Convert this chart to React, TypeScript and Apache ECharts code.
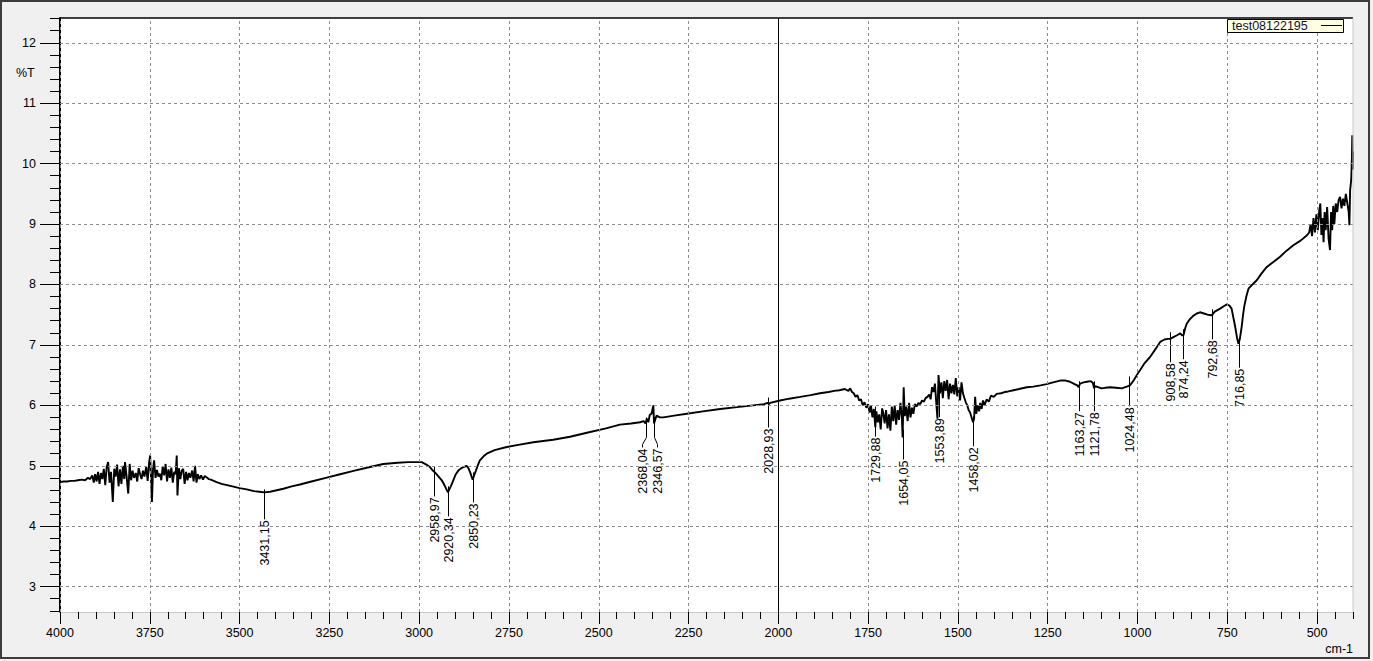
import React, { useEffect, useRef } from "react";
import * as echarts from "echarts";

// ---- data ----
const spectrum: [number, number][] = [
  [4000, 4.73], [3990, 4.74], [3980, 4.74], [3970, 4.75], [3960, 4.75], [3950, 4.76], [3940, 4.77], [3930, 4.76],
  [3922, 4.8], [3916, 4.78], [3910, 4.84], [3906, 4.72], [3902, 4.86], [3898, 4.74], [3894, 4.9], [3890, 4.7],
  [3886, 4.88], [3882, 4.78], [3878, 4.95], [3874, 4.68], [3870, 4.98], [3866, 5.06], [3862, 4.72], [3858, 4.9],
  [3853, 4.4], [3849, 4.95], [3845, 4.82], [3841, 5.02], [3837, 4.66], [3833, 4.94], [3829, 4.7], [3825, 5.0],
  [3821, 4.78], [3819, 5.06], [3815, 4.85], [3810, 4.54], [3806, 5.03], [3802, 4.76], [3798, 4.92], [3794, 4.8],
  [3789, 4.88], [3785, 4.74], [3781, 4.96], [3777, 4.86], [3773, 4.78], [3769, 4.92], [3765, 4.82], [3760, 4.98],
  [3756, 4.75], [3752, 5.05], [3749, 5.17], [3746, 4.7], [3744, 4.4], [3741, 4.95], [3738, 5.09], [3734, 4.8],
  [3730, 4.93], [3726, 4.82], [3722, 4.87], [3718, 4.76], [3714, 4.99], [3710, 4.84], [3706, 5.03], [3702, 4.74],
  [3698, 4.94], [3694, 4.8], [3690, 4.97], [3686, 4.72], [3682, 4.9], [3678, 4.86], [3675, 5.17], [3673, 4.51],
  [3669, 4.96], [3665, 4.78], [3661, 4.92], [3657, 4.95], [3653, 4.7], [3649, 4.9], [3645, 4.76], [3641, 4.88],
  [3637, 4.8], [3632, 4.92], [3628, 4.74], [3624, 5.0], [3620, 4.72], [3616, 4.86], [3612, 4.78], [3607, 4.84],
  [3602, 4.77], [3597, 4.83], [3592, 4.81], [3586, 4.78], [3580, 4.77], [3572, 4.75], [3564, 4.73], [3550, 4.7],
  [3535, 4.68], [3520, 4.66], [3500, 4.63], [3480, 4.61], [3460, 4.58], [3445, 4.57], [3431, 4.56], [3415, 4.57],
  [3400, 4.59], [3378, 4.62], [3355, 4.66], [3332, 4.69], [3300, 4.74], [3260, 4.8], [3220, 4.86], [3180, 4.92],
  [3137, 4.98], [3100, 5.03], [3060, 5.05], [3030, 5.06], [3010, 5.06], [2993, 5.06], [2980, 5.02], [2970, 4.98],
  [2962, 4.92], [2956, 4.89], [2947, 4.83], [2937, 4.76], [2928, 4.66], [2920, 4.56], [2912, 4.66], [2905, 4.76],
  [2898, 4.86], [2891, 4.92], [2880, 4.97], [2868, 5.0], [2862, 4.95], [2858, 4.89], [2854, 4.82], [2851, 4.77],
  [2847, 4.84], [2842, 4.92], [2836, 5.02], [2831, 5.09], [2820, 5.16], [2812, 5.2], [2790, 5.26], [2756, 5.31],
  [2720, 5.35], [2682, 5.39], [2627, 5.43], [2580, 5.48], [2530, 5.55], [2480, 5.62], [2441, 5.68], [2410, 5.7],
  [2385, 5.72], [2375, 5.74], [2370, 5.7], [2366, 5.78], [2362, 5.72], [2358, 5.84], [2353, 5.86], [2348, 6.0],
  [2346, 5.7], [2342, 5.78], [2339, 5.83], [2330, 5.8], [2320, 5.8], [2290, 5.83], [2255, 5.86], [2210, 5.9],
  [2162, 5.94], [2115, 5.97], [2070, 6.0], [2040, 6.02], [2030, 6.04], [2026, 6.02], [2023, 6.04], [1995, 6.08],
  [1970, 6.11], [1939, 6.14], [1910, 6.17], [1884, 6.2], [1860, 6.22], [1845, 6.24], [1830, 6.25], [1815, 6.27],
  [1805, 6.24], [1800, 6.28], [1795, 6.22], [1790, 6.2], [1785, 6.14], [1780, 6.17], [1775, 6.08], [1770, 6.1],
  [1765, 6.0], [1760, 6.05], [1755, 5.96], [1750, 6.02], [1746, 5.88], [1742, 5.99], [1738, 5.8], [1734, 5.94],
  [1730, 5.64], [1727, 5.9], [1723, 5.72], [1719, 5.85], [1715, 5.6], [1711, 5.95], [1708, 5.88], [1704, 5.7],
  [1700, 5.92], [1696, 5.62], [1692, 5.85], [1688, 5.58], [1684, 5.98], [1680, 5.74], [1676, 6.0], [1672, 5.68],
  [1668, 5.92], [1664, 5.76], [1660, 6.04], [1656, 5.8], [1654, 5.47], [1651, 6.3], [1648, 5.82], [1644, 5.98],
  [1640, 5.74], [1636, 6.04], [1632, 5.8], [1628, 5.96], [1624, 5.86], [1620, 6.02], [1615, 5.98], [1610, 6.04],
  [1605, 6.02], [1600, 6.08], [1595, 6.06], [1590, 6.12], [1585, 6.14], [1580, 6.18], [1576, 6.1], [1572, 6.3],
  [1568, 6.22], [1564, 6.36], [1560, 6.02], [1557, 5.78], [1554, 6.5], [1550, 6.2], [1546, 6.38], [1542, 6.12],
  [1538, 6.4], [1534, 6.24], [1530, 6.42], [1526, 6.1], [1522, 6.36], [1518, 6.2], [1514, 6.34], [1510, 6.18],
  [1506, 6.45], [1502, 6.15], [1498, 6.3], [1494, 6.08], [1490, 6.38], [1486, 6.2], [1482, 6.12], [1478, 6.05],
  [1474, 6.0], [1470, 5.92], [1466, 5.88], [1462, 5.8], [1458, 5.72], [1455, 5.78], [1452, 6.14], [1449, 5.86],
  [1445, 6.0], [1441, 5.9], [1438, 6.04], [1434, 5.94], [1430, 6.08], [1426, 6.0], [1420, 6.1], [1414, 6.06],
  [1408, 6.16], [1400, 6.14], [1392, 6.19], [1380, 6.2], [1370, 6.22], [1360, 6.23], [1345, 6.25], [1330, 6.27],
  [1308, 6.3], [1290, 6.31], [1270, 6.33], [1253, 6.35], [1235, 6.38], [1215, 6.41], [1200, 6.41], [1188, 6.39],
  [1178, 6.36], [1168, 6.33], [1164, 6.3], [1160, 6.36], [1150, 6.38], [1141, 6.39], [1130, 6.4], [1124, 6.37],
  [1121, 6.28], [1118, 6.32], [1110, 6.3], [1100, 6.28], [1090, 6.29], [1076, 6.3], [1060, 6.29], [1044, 6.28],
  [1030, 6.31], [1021, 6.33], [1010, 6.42], [1000, 6.52], [993, 6.58], [980, 6.7], [965, 6.8], [950, 6.93],
  [937, 7.05], [925, 7.09], [915, 7.1], [909, 7.1], [900, 7.13], [890, 7.16], [881, 7.19], [876, 7.16],
  [872, 7.16], [867, 7.28], [863, 7.35], [855, 7.42], [845, 7.48], [835, 7.52], [826, 7.54], [815, 7.52],
  [805, 7.5], [793, 7.49], [785, 7.55], [770, 7.6], [760, 7.64], [751, 7.67], [744, 7.65], [738, 7.6],
  [733, 7.45], [728, 7.3], [723, 7.12], [719, 7.02], [715, 7.1], [710, 7.3], [706, 7.5], [703, 7.63],
  [697, 7.8], [691, 7.93], [680, 8.0], [668, 8.07], [655, 8.18], [640, 8.29], [620, 8.38], [603, 8.46],
  [585, 8.56], [566, 8.65], [545, 8.73], [529, 8.81], [522, 8.86], [518, 9.0], [514, 8.8], [510, 9.1],
  [506, 8.86], [502, 9.16], [498, 8.9], [494, 9.22], [491, 9.34], [488, 8.82], [485, 9.1], [482, 8.7],
  [479, 9.2], [476, 8.9], [472, 9.28], [468, 8.76], [464, 8.57], [461, 9.2], [458, 8.9], [455, 9.3],
  [452, 9.0], [448, 9.34], [444, 9.2], [440, 9.4], [436, 9.45], [432, 9.26], [428, 9.42], [424, 9.3],
  [420, 9.5], [416, 9.35], [412, 9.2], [410, 8.98], [408, 9.56], [405, 9.73], [403, 10.1], [402, 10.47],
  [401, 9.9], [400, 10.2],
];

const peakWavenumbers = [3431.15, 2958.97, 2920.34, 2850.23, 2368.04, 2346.57, 2028.93, 1729.88, 1654.05,
  1553.89, 1458.02, 1163.27, 1121.78, 1024.48, 908.58, 874.24, 792.68, 716.85];
const peakLabels = ["3431,15", "2958,97", "2920,34", "2850,23", "2368,04", "2346,57", "2028,93", "1729,88", "1654,05",
  "1553,89", "1458,02", "1163,27", "1121,78", "1024,48", "908,58", "874,24", "792,68", "716,85"];
const peakT = [4.51, 4.89, 4.56, 4.79, 5.7, 5.7, 6.03, 5.88, 5.5, 6.2, 5.72, 6.3, 6.3, 6.38, 7.11, 7.16, 7.49, 7.02];

const xMajorTicks = [4000, 3750, 3500, 3250, 3000, 2750, 2500, 2250, 2000, 1750, 1500, 1250, 1000, 750, 500];
const yMajorTicks = [3, 4, 5, 6, 7, 8, 9, 10, 11, 12];
const cursorWavenumber = 2000;
const legendName = "test08122195";
const yName = "%T";
const xName = "cm-1";

// ---- layout (pixels) ----
const X_MIN = 400, X_MAX = 4000, Y_MIN = 2.58, Y_MAX = 12.41;
const LEADER = 25;
const peakShift: Record<string, number> = { "2368,04": -4, "2346,57": 3 };
const FONT = '"Liberation Sans", Arial, sans-serif';

const xMinorTicks: number[] = [];
for (let v = 400; v <= 4000; v += 50) xMinorTicks.push(v);
const yMinorTicks: number[] = [];
for (let i = 0; i <= 49; i++) yMinorTicks.push(Math.round((2.6 + i * 0.2) * 10) / 10);

export default function App() {
  const ref = useRef<HTMLDivElement>(null);
  useEffect(() => {
    if (!ref.current) return;
    const chart = echarts.init(ref.current, undefined, { renderer: "svg" });
    const axisBase = { type: "value", min: X_MIN, max: X_MAX, inverse: true, position: "bottom", splitLine: { show: false } };
    const yBase = { type: "value", min: Y_MIN, max: Y_MAX, position: "left", splitLine: { show: false } };
    const option: any = {
      animation: false,
      backgroundColor: "#f0f0f0",
      grid: { left: 60, right: 20, top: 18, bottom: 49, show: true, backgroundColor: "#ffffff", borderWidth: 0 },
      xAxis: [
        {
          ...axisBase,
          axisLine: { show: true, onZero: false, lineStyle: { color: "#c8c8c8", width: 1 } },
          axisTick: { show: true, customValues: xMinorTicks, length: 7, lineStyle: { color: "#000", width: 1 } },
          axisLabel: { show: false },
        },
        {
          ...axisBase,
          axisLine: { show: false, onZero: false },
          axisTick: { show: true, customValues: xMajorTicks, length: 12, lineStyle: { color: "#000", width: 1 } },
          axisLabel: {
            show: true, customValues: xMajorTicks, margin: 14, color: "#000", fontSize: 12.5, fontFamily: FONT,
            formatter: (v: number) => String(v),
          },
        },
      ],
      yAxis: [
        {
          ...yBase,
          axisLine: { show: true, onZero: false, lineStyle: { color: "#000", width: 2 } },
          axisTick: { show: true, customValues: yMinorTicks, length: 10, lineStyle: { color: "#000", width: 1 } },
          axisLabel: { show: false },
        },
        {
          ...yBase,
          axisLine: { show: false, onZero: false },
          axisTick: { show: true, customValues: yMajorTicks, length: 20, lineStyle: { color: "#000", width: 1 } },
          axisLabel: {
            show: true, customValues: yMajorTicks, margin: 24, color: "#000", fontSize: 12.5, fontFamily: FONT,
            formatter: (v: number) => String(v),
          },
        },
      ],
      series: [
        {
          type: "line",
          name: "grid",
          xAxisIndex: 0,
          yAxisIndex: 0,
          data: [],
          z: 1,
          silent: true,
          markLine: {
            silent: true,
            symbol: ["none", "none"],
            label: { show: false },
            lineStyle: { type: [3, 3], color: "#8c8c8c", width: 1 },
            animation: false,
            data: [
              ...xMajorTicks.map((v) => ({ xAxis: v })),
              ...yMajorTicks.map((v) => ({ yAxis: v })),
            ],
          },
        },
        {
          type: "line",
          name: legendName,
          xAxisIndex: 0,
          yAxisIndex: 0,
          data: spectrum,
          showSymbol: false,
          symbol: "none",
          z: 3,
          lineStyle: { color: "#000", width: 1.9 },
          markLine: {
            silent: true,
            symbol: ["none", "none"],
            label: { show: false },
            lineStyle: { type: "solid", color: "#000", width: 1 },
            data: [{ xAxis: cursorWavenumber }],
          },
        },
        {
          type: "custom",
          name: "peaks",
          xAxisIndex: 0,
          yAxisIndex: 0,
          z: 4,
          clip: false,
          data: peakWavenumbers.map((v, i) => [v, peakT[i]]),
          renderItem: (params: any, api: any) => {
            const i = params.dataIndex;
            const p = api.coord([api.value(0), api.value(1)]);
            const x = Math.round(p[0]) + 0.5;
            const y = p[1];
            const dx = peakShift[peakLabels[i]] || 0;
            const pts = dx
              ? [[x, y - 6], [x, y + 14], [x + dx, y + 21], [x + dx, y + LEADER - 1]]
              : [[x, y - 6], [x, y + LEADER - 1]];
            return {
              type: "group",
              children: [
                { type: "polyline", shape: { points: pts }, style: { stroke: "#000", lineWidth: 1, fill: "none" } },
                {
                  type: "text",
                  x: x + dx,
                  y: y + LEADER,
                  rotation: Math.PI / 2,
                  style: { text: peakLabels[i], fill: "#000", font: `12.5px ${FONT}`, align: "right", verticalAlign: "middle" },
                },
              ],
            };
          },
        },
      ],
      graphic: [
        { type: "line", z: 50, silent: true, shape: { x1: 60, y1: 18, x2: 1353, y2: 18 }, style: { stroke: "#000", lineWidth: 1.5 } },
        { type: "line", z: 50, silent: true, shape: { x1: 1353, y1: 18, x2: 1353, y2: 612 }, style: { stroke: "#c8c8c8", lineWidth: 1 } },
        { type: "rect", z: 60, silent: true, shape: { x: 1227.5, y: 19.5, width: 116, height: 13 }, style: { fill: "#ffffe1", stroke: "#000", lineWidth: 1 } },
        { type: "text", z: 61, silent: true, x: 1232, y: 26, style: { text: legendName, fill: "#101040", font: `12.5px ${FONT}`, verticalAlign: "middle", align: "left" } },
        { type: "line", z: 61, silent: true, shape: { x1: 1321, y1: 25.5, x2: 1342, y2: 25.5 }, style: { stroke: "#000", lineWidth: 1 } },
        { type: "text", z: 61, silent: true, x: 16, y: 73, style: { text: yName, fill: "#000", font: `12.5px ${FONT}`, verticalAlign: "middle", align: "left" } },
        { type: "text", z: 61, silent: true, x: 1353, y: 649, style: { text: xName, fill: "#000", font: `12.5px ${FONT}`, verticalAlign: "middle", align: "right" } },
        { type: "rect", z: 70, silent: true, shape: { x: 1, y: 1, width: 1368, height: 657 }, style: { fill: "none", stroke: "#3c3c3c", lineWidth: 2 } },
      ],
    };
    chart.setOption(option);
    return () => chart.dispose();
  }, []);
  return <div ref={ref} style={{ position: "fixed", left: 0, top: 0, width: 1373, height: 661 }} />;
}
